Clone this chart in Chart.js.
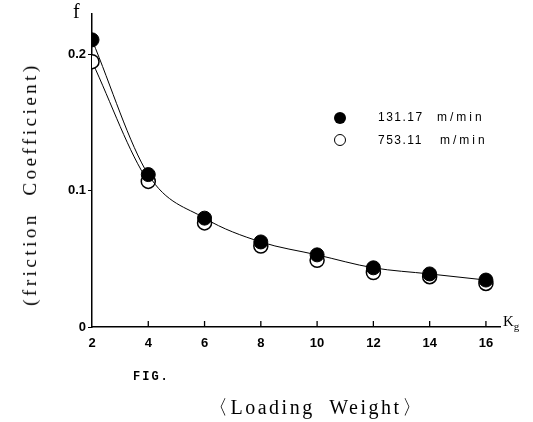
<!DOCTYPE html>
<html>
<head>
<meta charset="utf-8">
<script src="https://cdn.jsdelivr.net/npm/chart.js@4/dist/chart.umd.min.js"></script>
<style>
  body { margin: 0; background: #fff; }
  #wrap { position: relative; width: 533px; height: 422px; }
  #chart { position: absolute; left: 0; top: 0; }
  .lbl { position: absolute; color: #000; white-space: pre; }
  .dot { position: absolute; width: 12px; height: 12px; border-radius: 50%; box-sizing: border-box; }
  .leg { font: 12px 'Liberation Sans', sans-serif; letter-spacing: 1.5px; }
  .unit { font: 12px 'Liberation Sans', sans-serif; letter-spacing: 3px; }
</style>
</head>
<body>
<div id="wrap">
  <canvas id="chart" width="533" height="422"></canvas>
  <div class="lbl" style="left:73px; top:0px; font:20px 'Liberation Serif', serif;">f</div>
  <div class="lbl" style="left:503px; top:313px; font:15px 'Liberation Serif', serif;">K<sub style="font-size:11px">g</sub></div>
  <div class="lbl" style="left:133px; top:370px; font:bold 12px 'Liberation Mono', monospace; letter-spacing:2px;">FIG.</div>
  <div class="lbl" style="left:208px; top:394px; font:20px 'Liberation Serif', serif; letter-spacing:2.5px;">&#x3008;Loading  Weight&#x3009;</div>
  <div class="lbl" style="left:30px; top:184px; font:19px 'Liberation Serif', serif; letter-spacing:3.5px; transform:translate(-50%,-50%) rotate(-90deg);">(friction  Coefficient)</div>
  <div class="dot" style="left:334px; top:112px; background:#000;"></div>
  <div class="lbl leg" style="left:378px; top:110px;">131.17</div>
  <div class="lbl unit" style="left:437px; top:110px;">m/min</div>
  <div class="dot" style="left:334px; top:134px; border:1.5px solid #000; background:#fff;"></div>
  <div class="lbl leg" style="left:378px; top:133px;">753.11</div>
  <div class="lbl unit" style="left:440px; top:133px;">m/min</div>
</div>
<script>
const loads = [2, 4, 6, 8, 10, 12, 14, 16];
const fSlow = [0.211, 0.112, 0.080, 0.0625, 0.053, 0.0435, 0.039, 0.0345];
const fFast = [0.195, 0.107, 0.0765, 0.0595, 0.049, 0.040, 0.037, 0.032];
const yTicks = [0, 0.1, 0.2];
const yTickLabels = ['0', '0.1', '0.2'];

function toPoints(xs, ys) {
    return xs.map((x, i) => ({ x: x, y: ys[i] }));
}

// small upward tick marks on the x axis
const xTickMarks = {
    id: 'xTickMarks',
    afterDraw(chart) {
        const ctx = chart.ctx;
        const xs = chart.scales.x;
        const bottom = chart.chartArea.bottom;
        ctx.save();
        ctx.strokeStyle = '#000';
        ctx.lineWidth = 1.3;
        loads.forEach(v => {
            if (v === 2) return;
            const px = xs.getPixelForValue(v);
            ctx.beginPath();
            ctx.moveTo(px, bottom);
            ctx.lineTo(px, bottom - 6);
            ctx.stroke();
        });
        ctx.restore();
    }
};

new Chart(document.getElementById('chart'), {
    type: 'line',
    data: {
        datasets: [{
            label: '131.17 m/min',
            data: toPoints(loads, fSlow),
            borderColor: '#000',
            borderWidth: 1,
            pointRadius: 7,
            pointBackgroundColor: '#000',
            pointBorderColor: '#000',
            cubicInterpolationMode: 'monotone',
            order: 0
        }, {
            label: '753.11 m/min',
            data: toPoints(loads, fFast),
            borderColor: '#000',
            borderWidth: 1,
            pointRadius: 7,
            pointBorderWidth: 1.5,
            pointBackgroundColor: '#fff',
            pointBorderColor: '#000',
            cubicInterpolationMode: 'monotone',
            segment: {
                borderColor: ctx => ctx.p0DataIndex === 0 ? '#000' : 'rgba(0,0,0,0)'
            },
            order: 1
        }]
    },
    options: {
        responsive: false,
        animation: false,
        layout: { padding: { top: 14, right: 33, bottom: 0, left: 0 } },
        plugins: {
            legend: { display: false },
            tooltip: { enabled: false }
        },
        scales: {
            x: {
                type: 'linear',
                min: 2,
                max: 16.5,
                afterBuildTicks: s => { s.ticks = loads.map(v => ({ value: v })); },
                afterFit: s => { s.height = 95; },
                grid: { display: false },
                border: { display: true, color: '#000', width: 1.5 },
                ticks: {
                    color: '#000',
                    padding: 1,
                    font: { family: 'Liberation Sans', size: 13, weight: 'bold' }
                }
            },
            y: {
                type: 'linear',
                min: 0,
                max: 0.23,
                afterBuildTicks: s => { s.ticks = yTicks.map(v => ({ value: v })); },
                afterFit: s => { s.width = 92; },
                grid: { display: true, drawOnChartArea: false, drawTicks: true, tickLength: 4, color: '#000' },
                border: { display: true, color: '#000', width: 1.5 },
                ticks: {
                    color: '#000',
                    padding: 2,
                    font: { family: 'Liberation Sans', size: 13, weight: 'bold' },
                    callback: v => yTickLabels[yTicks.indexOf(v)]
                }
            }
        }
    },
    plugins: [xTickMarks]
});
</script>
</body>
</html>
